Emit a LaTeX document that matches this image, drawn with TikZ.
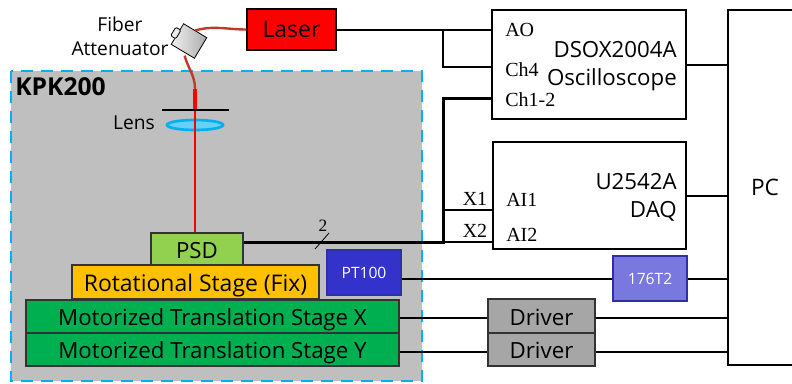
\documentclass[tikz,border=0pt]{standalone}
\usepackage{fontspec}
\setmainfont{Open Sans}
\newfontfamily\labelserif{Liberation Serif}
\usepackage{xcolor}
\usetikzlibrary{positioning,arrows.meta,shapes,calc}
\definecolor{kpkgray}{RGB}{191,191,191}
\definecolor{kpkblue}{RGB}{0,176,240}
\definecolor{fiberred}{RGB}{192,57,43}
\definecolor{psdgreen}{RGB}{146,208,80}
\definecolor{rotyellow}{RGB}{255,192,0}
\definecolor{stagegreen}{RGB}{0,176,80}
\definecolor{ptblue}{RGB}{51,51,204}
\definecolor{ptedge}{RGB}{47,47,168}
\definecolor{daqblue}{RGB}{120,120,222}
\definecolor{driverfill}{RGB}{166,166,166}
\tikzset{
  size/.style 2 args={minimum width=#1*0.75pt, minimum height=#2*0.75pt, inner sep=0pt},
  box/.style={draw=black, line width=1.5pt},
  stagebox/.style={draw=black!80, line width=0.8pt, text height=13.6pt, text depth=0pt, font=\fontsize{16.7}{18}\selectfont},
  tempbox/.style={line width=2pt, text=white, font=\fontsize{11.7}{13}\selectfont},
  wire/.style={line width=1.5pt},
  buswire/.style={line width=2.25pt},
  portlabel/.style={font=\labelserif\fontsize{15}{16}\selectfont, inner sep=0pt},
  boxtext/.style={font=\fontsize{16.7}{21}\selectfont, align=right, anchor=east, inner sep=0pt},
}

\begin{document}
\begin{tikzpicture}[x=0.75pt, y=0.75pt, >=Stealth]
\useasboundingbox (0,0) rectangle (792,-383);

% enclosure
\fill[kpkgray] (11,-71) rectangle (422,-381);
\draw[kpkblue, line width=2.2pt, dash pattern=on 9pt off 6pt] (11,-71) rectangle (422,-381);
\node[anchor=west, inner sep=0pt, font=\bfseries\fontsize{18.5}{20}\selectfont] (kpk) at (15,-87) {KPK200};

% stages
\node[stagebox, fill=psdgreen, size={92}{32}] (psd) at (197,-249) {PSD};
\node[stagebox, fill=rotyellow, size={247}{34}, font=\fontsize{17.2}{19}\selectfont] (rot) at (195.5,-282) {Rotational Stage (Fix)};
\node[stagebox, fill=stagegreen, size={373}{33}] (stagex) at (212.5,-316.5) {Motorized Translation Stage X};
\node[stagebox, fill=stagegreen, size={373}{33}] (stagey) at (212.5,-349.5) {Motorized Translation Stage Y};
\node[tempbox, draw=ptedge, fill=ptblue, size={74}{45}] (pt100) at (364,-272.5) {PT100};

% instruments
\node[box, line width=1pt, fill=red, size={89}{41}, font=\fontsize{17.2}{19}\selectfont] (laser) at (291.5,-29.5) {Laser};
\node[box, size={194}{109}] (osc) at (589,-64.5) {};
\node[boxtext] (osctext) at (677,-66) {DSOX2004A\\Oscilloscope};
\node[box, size={193}{107}] (daq) at (589.5,-195.5) {};
\node[boxtext] (daqtext) at (677,-197) {U2542A\\DAQ};
\node[box, size={74}{355}, font=\fontsize{17}{19}\selectfont] (pc) at (765,-187.5) {PC};
\node[tempbox, draw=ptedge, fill=daqblue, size={74}{45}] (t176) at (650,-278.5) {176T2};
\node[stagebox, fill=driverfill, size={107}{34}] (drv1) at (541.5,-316) {Driver};
\node[stagebox, fill=driverfill, size={107}{33}] (drv2) at (541.5,-349.5) {Driver};

% port labels
\node[portlabel, anchor=west] (ao) at (505,-30) {AO};
\node[portlabel, anchor=west] (chfour) at (505,-70) {Ch4};
\node[portlabel, anchor=west] (chone) at (505,-100) {Ch1-2};
\node[portlabel, anchor=west] (aione) at (506,-200) {AI1};
\node[portlabel, anchor=west] (aitwo) at (506,-235) {AI2};
\node[portlabel] (xone) at (475,-199) {X1};
\node[portlabel] (xtwo) at (475,-231) {X2};

% wire rows
\coordinate (top) at (443,-30);
\coordinate (rowch) at (443,-67);
\coordinate (rowbus) at (443,-98);
\coordinate (rowa) at (443,-210);
\coordinate (bus) at (443,-242);
\coordinate (rowx) at (445,-318);
\coordinate (rowy) at (445,-352);

\draw[wire] (laser.east) -- (laser.east -| osc.west);
\draw[wire] (top) |- (rowch -| osc.west);
\draw[buswire] (psd.east |- bus) -- (bus) -- (rowbus) -- (rowbus -| osc.west);
\draw[wire] (rowa) -- (rowa -| daq.west);
\draw[wire] (bus) -- (bus -| daq.west);
\draw[wire] (osc.east) -- (osc.east -| pc.west);
\draw[wire] (daq.east) -- (daq.east -| pc.west);
\draw[wire] (pt100.east |- t176.west) -- (t176.west);
\draw[wire] (t176.east) -- (t176.east -| pc.west);
\draw[wire] (stagex.east |- rowx) -- (drv1.west |- rowx);
\draw[wire] (stagey.east |- rowy) -- (drv2.west |- rowy);
\draw[wire] (drv1.east |- rowx) -- (pc.west |- rowx);
\draw[wire] (drv2.east |- rowy) -- (pc.west |- rowy);

% bus width mark
\coordinate (slasha) at (315,-249);
\coordinate (slashb) at (329,-233);
\draw[line width=0.6pt] (slasha) -- (slashb);
\node[portlabel, font=\labelserif\fontsize{13}{15}\selectfont] (busnum) at (323,-226) {2};

% optics
\node[draw=black, line width=0.6pt, left color=gray!12, right color=gray!65, rotate=-31, size={27}{24}] (att) at (189,-41) {};
\node[draw=black, line width=0.6pt, fill=gray!15, rounded corners=1pt, rotate=-31, size={6}{10}] (attcap) at (175.8,-33) {};
\coordinate (fibertop) at (195,-89);
\coordinate (stop) at (195,-110);
\draw[fiberred, line width=1.8pt] (att.north) to[out=15, in=180] (laser.west);
\draw[fiberred, line width=1.8pt] (att.south) ++(2,-4) to[out=-75, in=90] (fibertop);
\node[draw=kpkblue, line width=2pt, fill=kpkblue!60, ellipse, size={56}{10}] (lens) at (195,-125) {};
\draw[red, line width=0.8pt] (stop) -- (psd.north -| stop);
\draw[red, line width=3.6pt] (fibertop) -- (stop);
\draw[black, line width=1.6pt] (162,-110) -- (229,-110);
\node[font=\fontsize{14.4}{16}\selectfont, inner sep=0pt] (lenslabel) at (134,-123) {Lens};
\node[font=\fontsize{14.4}{18}\selectfont, align=center, inner sep=0pt] (attlabel) at (120,-36) {Fiber\\Attenuator};

\end{tikzpicture}
\end{document}
